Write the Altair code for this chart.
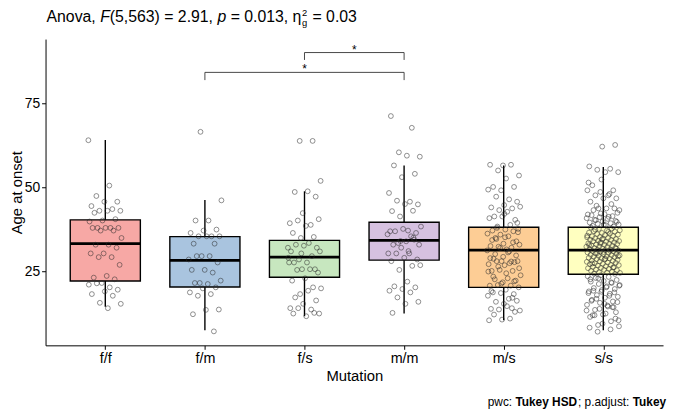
import json
import altair as alt
import pandas as pd

# ---------------- data ----------------
groups = ["f/f", "f/m", "f/s", "m/m", "m/s", "s/s"]
fills = ["#F7A8A5", "#A9C4DF", "#C7E7BF", "#D6C1E0", "#FDCD95", "#FFFFC0"]

q1 = [22.1, 20.3, 23.2, 28.3, 20.2, 24.1]
med = [33.2, 28.2, 29.2, 34.2, 31.3, 31.3]
q3 = [40.3, 35.3, 34.2, 39.6, 38.1, 38.1]
wlo = [14.4, 7.4, 11.6, 12.4, 10.4, 7.4]
whi = [64.1, 46.2, 48.8, 56.5, 56.5, 56.0]

pts_ff = [64.0, 50.5, 47.4, 45.7, 45.7, 44.4, 43.5, 43.0, 43.0, 43.0, 42.4, 40.5, 40.1, 39.8,
          37.9, 37.9, 37.9, 37.9, 37.9, 37.1, 37.1, 34.9, 32.9, 32.9, 32.0, 30.3, 30.3, 29.2,
          29.2, 26.9, 23.6, 23.1, 22.6, 21.5, 21.0, 20.2, 21.4, 19.5, 19.0, 18.2, 17.7, 15.6,
          15.3, 14.0]
pts_fm = [66.5, 46.1, 40.1, 40.1, 37.4, 37.1, 36.4, 35.4, 35.4, 35.4, 35.4, 33.2, 33.2, 29.5,
          28.5, 29.5, 29.5, 27.6, 25.4, 25.4, 24.6, 21.5, 22.2, 21.2, 21.5, 20.2, 19.9, 18.7,
          18.2, 17.7, 13.6, 13.5, 12.2, 7.1]
pts_fs = [63.8, 63.8, 51.9, 48.8, 48.6, 47.2, 42.3, 39.3, 38.8, 40.1, 40.5, 38.5, 36.4, 35.2,
          34.9, 32.0, 33.4, 32.9, 32.0, 32.6, 30.9, 29.5, 28.5, 30.9, 27.6, 27.6, 25.6, 25.6,
          27.6, 25.6, 25.4, 24.6, 22.9, 22.2, 20.2, 18.2, 19.9, 19.2, 17.2, 16.3, 15.3, 14.0,
          13.6, 14.0, 12.4, 11.6, 12.4, 12.6, 30.3, 29.0]
pts_mm = [71.2, 67.7, 60.4, 59.1, 59.4, 56.5, 54.0, 53.0, 48.3, 45.7, 46.0, 44.9, 45.0, 42.9,
          43.0, 41.3, 38.3, 37.1, 36.9, 36.4, 37.6, 36.9, 35.4, 33.4, 32.9, 33.9, 32.9, 34.4,
          32.0, 30.3, 30.3, 30.3, 28.5, 29.0, 28.0, 26.6, 25.4, 26.8, 21.9, 20.5, 20.2, 19.7,
          19.2, 18.7, 17.2, 15.9, 15.3, 12.6, 35.0, 34.0, 36.0, 31.0]
pts_ms = [56.5, 56.7, 56.7, 55.0, 53.5, 52.6, 50.1, 50.1, 49.1, 49.3, 46.4, 47.2, 45.7, 44.7,
          44.0, 43.7, 43.2, 44.2, 42.7, 41.3, 40.3, 41.3, 40.8, 38.8, 38.3, 37.6, 37.4, 37.1,
          36.9, 35.9, 36.2, 35.4, 34.9, 33.9, 33.2, 32.5, 32.0, 32.3, 32.9, 31.5, 28.7, 27.7,
          28.0, 27.1, 27.4, 28.0, 28.0, 26.8, 25.1, 25.1, 25.4, 23.8, 22.9, 22.6, 22.2, 21.7,
          20.7, 20.7, 20.9, 20.2, 19.5, 18.7, 18.2, 18.5, 17.7, 16.8, 15.9, 16.2, 15.3, 13.8,
          14.0, 13.6, 13.3, 14.6, 12.1, 12.9, 10.6, 10.4, 10.9,
          37.9, 36.6, 35.1, 34.3, 33.6, 31.9, 31.2, 30.6, 30.1, 29.7, 29.3, 28.9, 27.9, 26.4,
          25.9, 24.4, 23.4, 22.0, 21.3, 24.9, 30.9, 34.6, 39.4, 42.1, 19.1, 17.1]
pts_ss = [62.6, 62.1, 56.2, 55.5, 55.2, 54.5, 54.5, 50.6, 49.1, 48.6, 49.1, 47.6, 47.6, 46.7,
          46.7, 45.7, 45.0, 43.7, 43.2, 43.7, 43.2, 43.7, 52.3, 51.4, 48.0, 44.5,
          42.4, 42.0, 41.7, 41.4, 41.1, 40.8, 40.6, 40.3, 40.0, 39.8, 39.5, 39.3, 39.1, 38.9,
          38.7, 38.5, 38.3, 42.2, 41.9, 41.2, 40.2, 39.7, 38.8,
          38.0, 37.7, 37.6, 37.2, 37.1, 36.9, 36.8, 36.4, 36.5, 36.2, 36.1, 35.9, 35.8, 35.4,
          35.5, 35.2, 35.1, 34.9, 34.8, 34.6, 34.7, 34.4, 34.3, 34.1, 34.0, 33.8, 33.9, 33.6,
          33.5, 33.3, 33.2, 33.0, 33.1, 32.9, 32.7, 32.6, 32.4, 32.3, 32.2, 31.9, 32.0, 31.8,
          31.6, 31.5, 31.4, 31.2, 31.3, 31.0, 30.9, 30.8, 30.6, 30.5, 30.3, 30.2, 30.1, 29.9,
          29.8, 29.6, 29.7, 29.4, 29.3, 29.2, 28.9, 29.0, 28.8, 28.6, 28.4, 28.5, 28.2, 28.1,
          27.9, 27.8, 27.6, 27.4, 27.5, 27.2, 27.1, 26.9, 26.7, 26.8, 26.5, 26.3, 26.2, 26.0,
          25.9, 25.7, 25.5, 25.3, 25.4, 25.1, 24.9, 24.7, 24.5, 24.6, 24.3, 24.2,
          34.5, 32.8, 31.1, 30.4, 29.5, 28.7, 27.3, 26.1, 33.4, 35.6, 36.7, 37.4, 31.7, 30.7,
          22.6, 21.7, 22.9, 20.7, 20.2, 19.2, 18.7, 18.9, 18.5, 17.7, 16.8, 15.8, 15.3, 16.2,
          14.3, 13.8, 13.3, 14.8, 11.9, 10.9, 9.4, 8.2, 7.7, 7.0, 10.4, 12.4, 11.9, 14.3,
          23.8, 23.5, 23.3, 23.0, 22.4, 22.1, 21.9, 21.5, 21.2, 20.9, 20.5, 20.0, 19.7, 19.4,
          19.0, 18.3, 17.9, 17.4, 17.1, 16.5, 16.0, 15.6, 15.0, 14.5, 13.5, 12.8, 12.1, 11.4,
          10.1, 9.0, 8.6]
point_lists = [pts_ff, pts_fm, pts_fs, pts_mm, pts_ms, pts_ss]

# significance brackets
b_left = [3, 2]
b_right = [4, 4]
b_y = [90.1, 84.2]
b_tip = [87.9, 81.9]
b_lab = ["*", "*"]

# ---------------- layout ----------------
W, H = 625, 310
XMIN, XMAX = 0.4, 6.6
YMIN, YMAX = 2.94, 94.12
HALF = 0.352
JIT = 0.17
FONT = "Liberation Sans"

rows = []
for gi, (g, vals) in enumerate(zip(groups, point_lists)):
    for i, v in enumerate(vals):
        off = (((i * 0.6180339887) + gi * 0.37) % 1.0 - 0.5) * 2 * JIT
        rows.append({"g": g, "pos": gi + 1 + off, "age": v})
pts = pd.DataFrame(rows)

box = pd.DataFrame({"g": groups, "pos": list(range(1, 7)), "q1": q1, "med": med,
                    "q3": q3, "lo": wlo, "hi": whi})
box["left"] = box["pos"] - HALF
box["right"] = box["pos"] + HALF

brk = pd.DataFrame({"xa": b_left, "xb": b_right, "y": b_y, "tip": b_tip, "lab": b_lab})
brk["xm"] = (brk["xa"] + brk["xb"]) / 2

xs = alt.Scale(domain=[XMIN, XMAX], nice=False, zero=False)
ys = alt.Scale(domain=[YMIN, YMAX], nice=False, zero=False)

label_expr = json.dumps(groups) + "[datum.value - 1]"
xaxis = alt.Axis(values=[1, 2, 3, 4, 5, 6], labelExpr=label_expr, title="Mutation",
                 grid=False, labelFontSize=14.5, titleFontSize=15, titleFontWeight="normal",
                 titleY=31, titleBaseline="middle", labelPadding=2)
yaxis = alt.Axis(values=[25, 50, 75], title="Age at onset", grid=False, labelFontSize=14,
                 titleFontSize=15, titleFontWeight="normal", titleX=-29, titleY=H / 2,
                 titleAngle=270, titleBaseline="middle", titleAlign="center", labelPadding=2)

base = alt.Chart(box)
whisk = base.mark_rule(color="black", strokeWidth=1.4).encode(
    x=alt.X("pos:Q", scale=xs, axis=xaxis),
    y=alt.Y("lo:Q", scale=ys, axis=yaxis),
    y2="hi:Q")
boxes = base.mark_bar(stroke="black", strokeWidth=1.4, opacity=1).encode(
    x=alt.X("left:Q", scale=xs), x2="right:Q",
    y=alt.Y("q1:Q", scale=ys), y2="q3:Q",
    fill=alt.Fill("g:N", scale=alt.Scale(domain=groups, range=fills), legend=None))
medl = base.mark_rule(color="black", strokeWidth=2.8).encode(
    x="left:Q", x2="right:Q", y="med:Q")
points = alt.Chart(pts).mark_point(shape="circle", filled=False, size=24, strokeWidth=0.65,
                                   color="#2a2a2a", opacity=0.8).encode(
    x="pos:Q", y="age:Q")

bb = alt.Chart(brk)
hline = bb.mark_rule(color="#333333", strokeWidth=0.9).encode(x="xa:Q", x2="xb:Q", y="y:Q")
ltip = bb.mark_rule(color="#333333", strokeWidth=0.9).encode(x="xa:Q", y="tip:Q", y2="y:Q")
rtip = bb.mark_rule(color="#333333", strokeWidth=0.9).encode(x="xb:Q", y="tip:Q", y2="y:Q")
stars = bb.mark_text(fontSize=12, font=FONT, baseline="alphabetic", dy=1, color="black").encode(
    x="xm:Q", y="y:Q", text="lab:N")

# ---------------- rich text (title & caption) ----------------
REG = {' ': 278, ',': 278, '.': 278, '(': 333, ')': 333, '=': 584, 'A': 667, 'n': 556,
       'o': 556, 'v': 500, 'a': 556, 'F': 611, 'p': 556, 'η': 556, 'g': 556, 'w': 722,
       'c': 500, ':': 278, ';': 278, 'd': 556, 'j': 222, 'u': 556, 's': 500, 't': 278}
BOLD = {'T': 611, 'u': 611, 'k': 556, 'e': 556, 'y': 556, ' ': 278, 'H': 722, 'S': 667,
        'D': 722}


def tw(s, size, bold=False):
    tab = BOLD if bold else REG
    return sum(tab.get(c, 556) for c in s) * size / 1000.0


one = pd.DataFrame({"k": [0]})


def seg(text, x, y, size, style="normal", weight="normal", bold=False):
    # SVG drops leading spaces: shift the start instead
    stripped = text.lstrip(" ")
    x = x + tw(text[:len(text) - len(stripped)], size, bold)
    return alt.Chart(one).mark_text(font=FONT, fontSize=size, fontStyle=style,
                                    fontWeight=weight, align="left", baseline="alphabetic",
                                    color="black").encode(
        x=alt.value(x), y=alt.value(y), text=alt.value(stripped.rstrip(" ")))


TS = 16
ty = -17.7
parts = [("Anova, ", "normal"), ("F", "italic"), ("(5,563) = 2.91, ", "normal"),
         ("p", "italic"), (" = 0.013, ", "normal"), ("η", "normal")]
title_layers = []
cx = 1.0
for txt, st in parts:
    title_layers.append(seg(txt, cx, ty, TS, style=st))
    cx += tw(txt, TS)
title_layers.append(seg("2", cx + 0.5, ty - 5.5, 9.5))
title_layers.append(seg("g", cx + 0.5, ty + 4.5, 9.5))
cx += tw("2", 9.5) + 1.5
title_layers.append(seg(" = 0.03", cx, ty, TS))

CS = 12
cy = 371
cparts = [("pwc: ", False), ("Tukey HSD", True), ("; p.adjust: ", False), ("Tukey", True)]
total = sum(tw(t, CS, b) for t, b in cparts)
cx = 629 - total
cap_layers = []
for t, b in cparts:
    cap_layers.append(seg(t, cx, cy, CS, weight="bold" if b else "normal", bold=b))
    cx += tw(t, CS, b)

chart = alt.layer(whisk, boxes, medl, points, hline, ltip, rtip, stars,
                  *title_layers, *cap_layers).properties(
    width=W, height=H,
    autosize=alt.AutoSizeParams(type="none"),
    padding={"left": 38, "top": 29, "right": 4, "bottom": 62},
).configure_view(stroke=None).configure_axis(
    domainColor="black", domainWidth=1, tickColor="black", tickWidth=1, tickSize=4,
    labelColor="black", titleColor="black", labelFont=FONT, titleFont=FONT,
)

chart.save("out.html", embed_options={"renderer": "svg", "actions": False})
